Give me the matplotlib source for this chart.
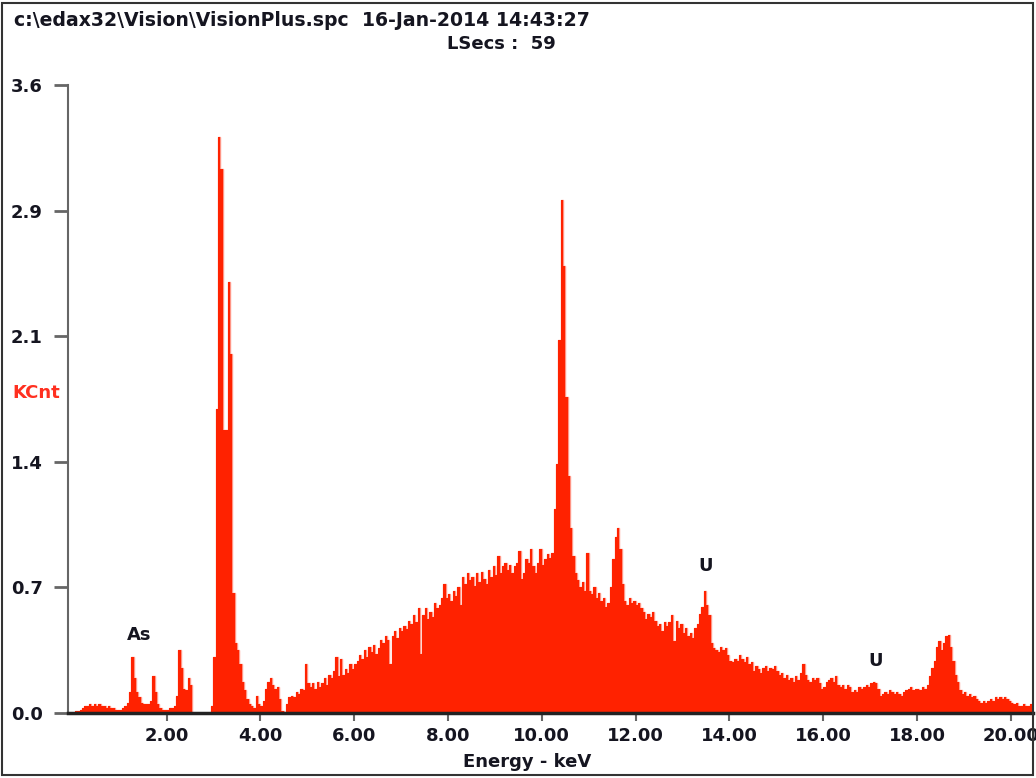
import matplotlib.pyplot as plt
import numpy as np
from matplotlib.patches import Rectangle

plt.rcParams['font.family'] = ['DejaVu Sans']

# spectrum, counts in KCnt per 0.05 keV channel (one row = 1 keV)
channel_width = 0.05
kcnt = [
    0.00, 0.01, 0.01, 0.02, 0.03, 0.04, 0.04, 0.05, 0.04, 0.05, 0.04, 0.05, 0.04, 0.04, 0.03, 0.04, 0.03, 0.03, 0.02, 0.02,
    0.02, 0.03, 0.04, 0.06, 0.12, 0.32, 0.20, 0.12, 0.09, 0.06, 0.05, 0.05, 0.05, 0.07, 0.21, 0.12, 0.05, 0.03, 0.02, 0.02,
    0.02, 0.03, 0.03, 0.04, 0.10, 0.36, 0.26, 0.14, 0.13, 0.20, 0.16, 0.00, 0.00, 0.00, 0.00, 0.00, 0.00, 0.00, 0.00, 0.04,
    0.32, 1.74, 3.30, 3.12, 1.62, 1.62, 2.47, 2.06, 0.69, 0.40, 0.36, 0.28, 0.18, 0.13, 0.08, 0.05, 0.04, 0.03, 0.10, 0.05,
    0.04, 0.07, 0.14, 0.18, 0.20, 0.16, 0.14, 0.15, 0.08, 0.01, 0.00, 0.05, 0.09, 0.10, 0.09, 0.12, 0.11, 0.14, 0.13, 0.28,
    0.17, 0.15, 0.17, 0.14, 0.18, 0.15, 0.17, 0.20, 0.16, 0.22, 0.20, 0.24, 0.32, 0.21, 0.31, 0.22, 0.25, 0.23, 0.28, 0.25,
    0.28, 0.30, 0.33, 0.31, 0.36, 0.32, 0.38, 0.35, 0.39, 0.34, 0.37, 0.42, 0.40, 0.44, 0.42, 0.28, 0.44, 0.47, 0.43, 0.49,
    0.47, 0.50, 0.48, 0.53, 0.51, 0.56, 0.52, 0.60, 0.34, 0.56, 0.60, 0.54, 0.58, 0.55, 0.63, 0.60, 0.62, 0.66, 0.74, 0.66,
    0.68, 0.64, 0.70, 0.67, 0.72, 0.62, 0.78, 0.74, 0.80, 0.76, 0.78, 0.73, 0.80, 0.75, 0.81, 0.77, 0.74, 0.82, 0.78, 0.84,
    0.79, 0.90, 0.80, 0.84, 0.86, 0.82, 0.85, 0.80, 0.84, 0.86, 0.93, 0.77, 0.80, 0.88, 0.86, 0.94, 0.84, 0.80, 0.86, 0.94,
    0.85, 0.88, 0.91, 0.89, 0.92, 1.17, 1.43, 2.14, 2.94, 2.56, 1.81, 1.36, 1.06, 0.90, 0.80, 0.76, 0.72, 0.75, 0.70, 0.92,
    0.70, 0.68, 0.72, 0.66, 0.69, 0.64, 0.66, 0.61, 0.63, 0.72, 0.88, 1.01, 1.06, 0.94, 0.74, 0.64, 0.62, 0.66, 0.63, 0.64,
    0.62, 0.63, 0.60, 0.58, 0.54, 0.57, 0.55, 0.58, 0.53, 0.50, 0.51, 0.47, 0.52, 0.50, 0.52, 0.56, 0.41, 0.53, 0.49, 0.51,
    0.46, 0.49, 0.44, 0.46, 0.43, 0.49, 0.51, 0.57, 0.61, 0.70, 0.62, 0.56, 0.40, 0.37, 0.36, 0.35, 0.38, 0.36, 0.37, 0.33,
    0.30, 0.29, 0.31, 0.30, 0.33, 0.31, 0.29, 0.32, 0.28, 0.29, 0.24, 0.27, 0.25, 0.23, 0.26, 0.27, 0.24, 0.26, 0.25, 0.27,
    0.24, 0.22, 0.23, 0.20, 0.22, 0.19, 0.20, 0.18, 0.21, 0.19, 0.23, 0.28, 0.22, 0.19, 0.18, 0.20, 0.19, 0.20, 0.17, 0.14,
    0.15, 0.18, 0.19, 0.20, 0.18, 0.21, 0.16, 0.15, 0.16, 0.14, 0.16, 0.15, 0.12, 0.13, 0.12, 0.15, 0.14, 0.15, 0.16, 0.15,
    0.17, 0.18, 0.17, 0.14, 0.10, 0.11, 0.12, 0.11, 0.13, 0.12, 0.11, 0.12, 0.11, 0.10, 0.12, 0.13, 0.14, 0.15, 0.13, 0.14,
    0.14, 0.13, 0.15, 0.14, 0.16, 0.21, 0.26, 0.30, 0.38, 0.41, 0.36, 0.40, 0.44, 0.45, 0.38, 0.30, 0.22, 0.18, 0.13, 0.11,
    0.12, 0.10, 0.11, 0.09, 0.10, 0.08, 0.07, 0.06, 0.07, 0.06, 0.07, 0.08, 0.07, 0.09, 0.08, 0.09, 0.08, 0.09, 0.08, 0.07,
    0.06, 0.05, 0.06, 0.04, 0.04, 0.05, 0.04, 0.04, 0.05, 0.04,
]

xticks = [2, 4, 6, 8, 10, 12, 14, 16, 18, 20]
xlabels = ["2.00", "4.00", "6.00", "8.00", "10.00", "12.00", "14.00", "16.00", "18.00", "20.00"]
yticks = [0, 0.72, 1.44, 2.16, 2.88, 3.6]
ylabels = ["0.0", "0.7", "1.4", "2.1", "2.9", "3.6"]

# element markers: (label, energy keV, height KCnt)
markers = [("As", 1.41, 0.45), ("U", 13.5, 0.84), ("U", 17.12, 0.30)]

red = "#ff2200"
ink = "#151520"
fs = 13

fig = plt.figure(figsize=(10.36, 7.78), dpi=100)
ax = fig.add_axes([68 / 1036, 1 - 713 / 778, (1033 - 68) / 1036, (713 - 85) / 778])

edges = np.arange(len(kcnt) + 1) * channel_width
ax.stairs(kcnt, edges, color="#ff9585", linewidth=1.0)
ax.stairs(kcnt, edges, fill=True, color=red)

ax.set_xlim(-0.1, 20.47)
ax.set_ylim(0, 3.6)

ax.set_xticks(xticks, xlabels)
ax.set_yticks(yticks, ylabels)
ax.tick_params(axis="y", length=10, width=2, color="#666666", pad=31,
               labelsize=fs, labelcolor=ink)
ax.tick_params(axis="x", length=6, width=1.5, color="#666666", pad=4,
               labelsize=fs, labelcolor=ink)
for lbl in ax.get_yticklabels():
    lbl.set_ha("left")
    lbl.set_fontweight("bold")
for lbl in ax.get_xticklabels():
    lbl.set_fontweight("bold")

for side in ["top", "right"]:
    ax.spines[side].set_visible(False)
ax.spines["left"].set_color("#666666")
ax.spines["left"].set_linewidth(1.5)
ax.spines["bottom"].set_color("#222222")
ax.spines["bottom"].set_linewidth(2.5)

for name, e, h in markers:
    ax.text(e, h, name, ha="center", va="center", fontsize=fs,
            fontweight="bold", color=ink)

fig.text(14 / 1036, 1 - 20 / 778, "c:\\edax32\\Vision\\VisionPlus.spc  16-Jan-2014 14:43:27",
         ha="left", va="center", fontsize=13.6, fontweight="bold", color=ink)
fig.text(447 / 1036, 1 - 44 / 778, "LSecs :  59", ha="left", va="center",
         fontsize=fs, fontweight="bold", color=ink)
fig.text(12 / 1036, 1 - 393 / 778, "KCnt", ha="left", va="center",
         fontsize=fs, fontweight="bold", color="#ff3020")
fig.text(527 / 1036, 1 - 762 / 778, "Energy - keV", ha="center", va="center",
         fontsize=fs, fontweight="bold", color=ink)

fig.patches.append(Rectangle((2 / 1036, 3 / 778), (1033 - 2) / 1036, (775 - 3) / 778,
                             transform=fig.transFigure, fill=False,
                             edgecolor="#333333", linewidth=1.5))

fig.savefig("out.png", dpi=100)
